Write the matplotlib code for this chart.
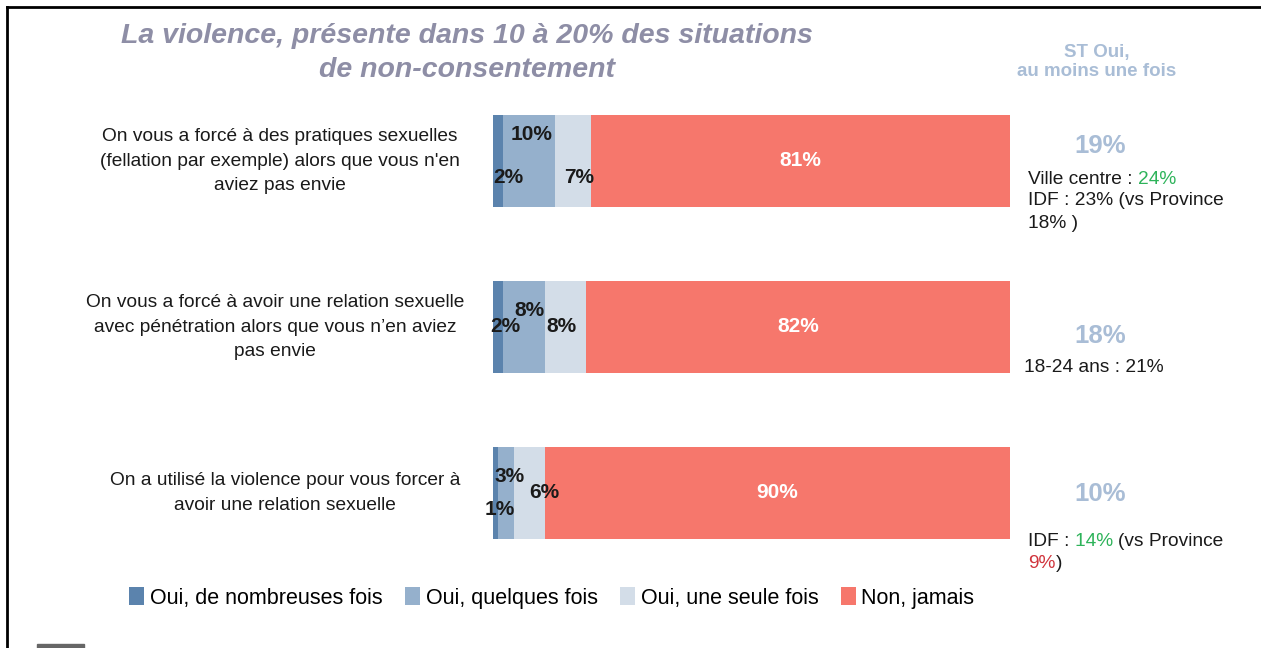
import matplotlib
matplotlib.use("Agg")
import matplotlib.pyplot as plt
from matplotlib.patches import Rectangle
from matplotlib.lines import Line2D
import numpy as np

W, H = 1261, 648

# --- data ---
questions = [
    "On vous a forcé à des pratiques sexuelles\n(fellation par exemple) alors que vous n'en\naviez pas envie",
    "On vous a forcé à avoir une relation sexuelle\navec pénétration alors que vous n\u2019en aviez\npas envie",
    "On a utilisé la violence pour vous forcer à\navoir une relation sexuelle",
]
series = ["Oui, de nombreuses fois", "Oui, quelques fois", "Oui, une seule fois", "Non, jamais"]
nombreuses = [2, 2, 1]
quelques = [10, 8, 3]
seule = [7, 8, 6]
jamais = [81, 82, 90]
st_oui = ["19%", "18%", "10%"]

colors = ["#5b83ad", "#95b0cc", "#d3dde8", "#f6776c"]

# label nudges for the small segments (dx in %, dy in bar units, + is down)
nudges = [
    [(1.9, 0.10), (0.4, -0.16), (1.2, 0.10)],
    [(1.4, 0.0), (1.0, -0.10), (-0.8, 0.0)],
    [(0.9, 0.10), (0.8, -0.10), (3.0, 0.0)],
]

px = lambda x: x / W
py = lambda y: 1 - y / H

fig = plt.figure(figsize=(W / 100, H / 100), dpi=100)
ax = fig.add_axes([px(493), 1 - 576 / H, 517 / W, 498 / H])

vals = np.array([nombreuses, quelques, seule, jamais], dtype=float)
y = np.arange(len(questions))
left = np.zeros(len(questions))
for i, name in enumerate(series):
    ax.barh(y, vals[i], left=left, height=92 / 166, color=colors[i], label=name,
            edgecolor="none")
    for j in range(len(questions)):
        v = vals[i][j]
        if i == 3:
            ax.text(left[j] + v / 2, y[j], f"{int(v)}%", ha="center", va="center",
                    color="white", fontsize=15, fontweight="bold", family="Liberation Sans")
        else:
            dx, dy = nudges[j][i]
            ax.text(left[j] + v / 2 + dx, y[j] + dy, f"{int(v)}%", ha="center",
                    va="center", color="#1a1a1a", fontsize=15, fontweight="bold",
                    family="Liberation Sans")
    left += vals[i]

ax.set_xlim(0, 100)
ax.set_ylim(2.5, -0.5)
ax.axis("off")

# question text on the left
q_x = [280, 275, 285]
for j, q in enumerate(questions):
    fig.text(px(q_x[j]), py(161 + 166 * j), q, ha="center", va="center",
             fontsize=13.8, family="Liberation Sans", color="#1a1a1a", linespacing=1.58)

# title
fig.text(px(467), py(53), "La violence, présente dans 10 à 20% des situations\nde non-consentement",
         ha="center", va="center", fontsize=20.5, fontweight="bold", fontstyle="italic",
         color="#8e8ea6", family="Liberation Sans", linespacing=1.4)

# right column
fig.text(px(1097), py(62), "ST Oui,\nau moins une fois", ha="center", va="center",
         fontsize=13.5, fontweight="bold", color="#a9bdd6", family="Liberation Sans",
         linespacing=1.17)
st_y = [146, 336, 494]
for j, s in enumerate(st_oui):
    fig.text(px(1100), py(st_y[j]), s, ha="center", va="center", fontsize=18.5,
             fontweight="bold", color="#a9bdd6", family="Liberation Sans")

ink = "#1a1a1a"
green = "#2eb35a"
red = "#d0343c"
note_size = 13.8


def rich(x, yy, parts):
    # draw consecutive coloured chunks on one line
    t = None
    for txt, col in parts:
        if t is None:
            t = fig.text(px(x), py(yy), txt, color=col, fontsize=note_size,
                         family="Liberation Sans", va="center")
        else:
            t = ax.annotate(txt, xycoords=t, xy=(1, 0), va="bottom", color=col,
                            fontsize=note_size, family="Liberation Sans",
                            annotation_clip=False)
    return t


rich(1028, 179, [("Ville centre : ", ink), ("24%", green)])
rich(1028, 201, [("IDF : 23% (vs Province", ink)])
rich(1028, 223, [("18% )", ink)])
rich(1024, 367, [("18-24 ans : 21%", ink)])
rich(1028, 542, [("IDF : ", ink), ("14% ", green), ("(vs Province", ink)])
rich(1028, 563, [("9%", red), (")", ink)])

# legend
fig.legend(loc="center left", bbox_to_anchor=(px(110), py(598)), ncol=4, frameon=False,
           handlelength=0.7, handleheight=0.85, handletextpad=0.25, columnspacing=1.05,
           prop={"family": "Liberation Sans", "size": 15.5})

# slide border and footer mark
fig.add_artist(Line2D([px(7), px(7)], [0, py(7)], color="black", lw=2))
fig.add_artist(Line2D([px(7), 1], [py(7), py(7)], color="black", lw=2))
fig.add_artist(Rectangle((px(37), 0), px(84) - px(37), 4 / H, color="#666666",
                         transform=fig.transFigure))

fig.savefig("out.png", dpi=100)
